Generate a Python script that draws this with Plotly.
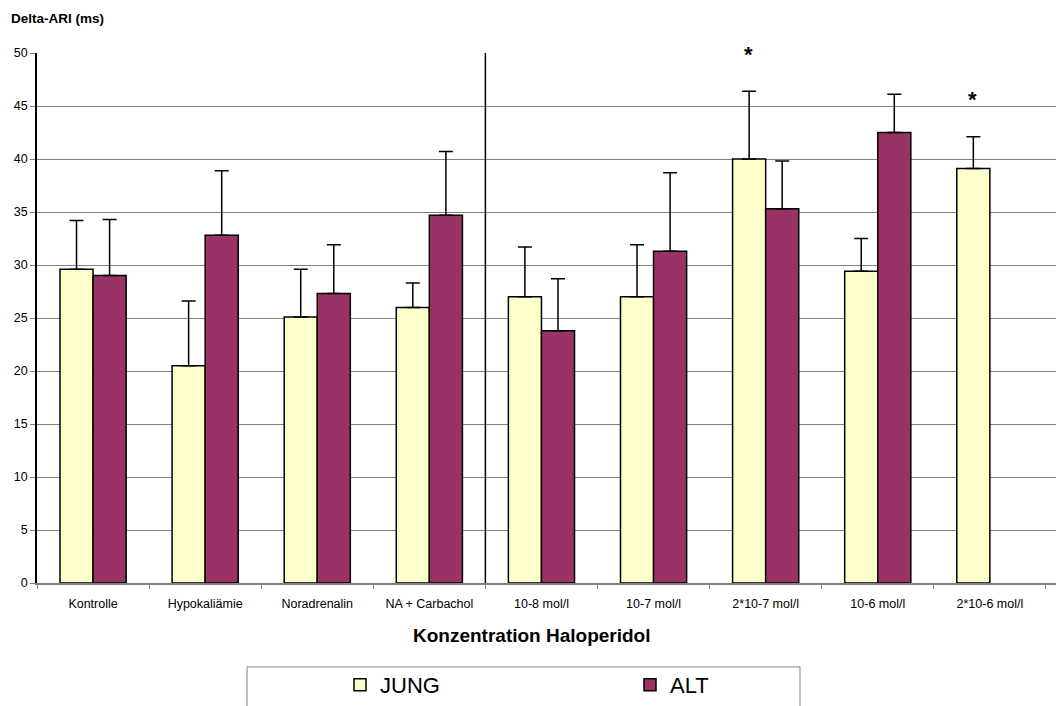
import plotly.graph_objects as go

# Treatment groups along the x axis
categories = ["Kontrolle", "Hypokaliämie", "Noradrenalin", "NA + Carbachol",
              "10-8 mol/l", "10-7 mol/l", "2*10-7 mol/l", "10-6 mol/l", "2*10-6 mol/l"]

# Mean Delta-ARI (ms) and upper standard error per group
jung_mean = [29.6, 20.5, 25.1, 26.0, 27.0, 27.0, 40.0, 29.4, 39.1]
jung_err = [4.6, 6.1, 4.5, 2.3, 4.7, 4.9, 6.4, 3.1, 3.0]
alt_mean = [29.0, 32.8, 27.3, 34.7, 23.8, 31.3, 35.3, 42.5, None]
alt_err = [5.3, 6.1, 4.6, 6.0, 4.9, 7.4, 4.5, 3.6, None]

# Groups marked as significant (asterisk above the JUNG bar)
significant = ["2*10-7 mol/l", "2*10-6 mol/l"]

JUNG_COLOR = "#FFFFCC"
ALT_COLOR = "#993366"
FONT = "Liberation Sans, Arial, sans-serif"

fig = go.Figure()

fig.add_trace(go.Bar(
    name="JUNG", x=categories, y=jung_mean,
    marker=dict(color=JUNG_COLOR, line=dict(color="black", width=1.5)),
    error_y=dict(type="data", symmetric=False, array=jung_err,
                 arrayminus=[0] * len(jung_err),
                 color="black", thickness=1.5, width=7),
))
fig.add_trace(go.Bar(
    name="ALT", x=categories, y=alt_mean,
    marker=dict(color=ALT_COLOR, line=dict(color="black", width=1.5)),
    error_y=dict(type="data", symmetric=False, array=alt_err,
                 arrayminus=[0] * len(alt_err),
                 color="black", thickness=1.5, width=7),
))

# Significance markers above the JUNG error bars
for cat in significant:
    i = categories.index(cat)
    fig.add_annotation(
        x=cat, y=jung_mean[i] + jung_err[i], xref="x", yref="y",
        text="<b>*</b>", showarrow=False, xshift=-17, yshift=37,
        yanchor="middle", font=dict(family=FONT, size=22, color="black"),
    )

# Separator between the reference conditions and the haloperidol series
fig.add_shape(type="line", xref="x", yref="y", x0=3.5, x1=3.5, y0=0, y1=50,
              line=dict(color="black", width=1.5))

# Frame around the legend
fig.add_shape(type="rect", xref="paper", yref="paper",
              x0=(247 - 37) / 1019, x1=(800 - 37) / 1019,
              y0=(583.5 - 730) / 530.5, y1=(583.5 - 667.5) / 530.5,
              line=dict(color="#808080", width=1), fillcolor="rgba(0,0,0,0)")

# Axis titles
fig.add_annotation(
    x=(9 - 37) / 1019, y=(583.5 - 18) / 530.5, xref="paper", yref="paper",
    text="<b>Delta-ARI (ms)</b>", showarrow=False, xanchor="left", yanchor="middle",
    font=dict(family=FONT, size=13.5, color="black"),
)
fig.add_annotation(
    x=(532 - 37) / 1019, y=(583.5 - 636) / 530.5, xref="paper", yref="paper",
    text="<b>Konzentration Haloperidol</b>", showarrow=False,
    xanchor="center", yanchor="middle",
    font=dict(family=FONT, size=19, color="black"),
)

fig.update_layout(
    width=1056, height=706,
    margin=dict(l=37, r=0, t=53, b=122.5, pad=0),
    paper_bgcolor="white", plot_bgcolor="white",
    barmode="group", bargap=0.41, bargroupgap=0,
    font=dict(family=FONT, size=12, color="black"),
    showlegend=True,
    legend=dict(
        orientation="h", x=(340 - 37) / 1019, xanchor="left",
        y=(583.5 - 686) / 530.5, yanchor="middle",
        font=dict(family=FONT, size=22, color="black"),
        entrywidth=245, borderwidth=0, bgcolor="rgba(0,0,0,0)",
    ),
    xaxis=dict(
        type="category", range=[-0.5, 8.59],
        showline=True, linecolor="#808080", linewidth=1.5,
        ticks="outside", tickson="boundaries", ticklen=4, tickcolor="#808080",
        ticklabelstandoff=8,
        showgrid=False, tickfont=dict(family=FONT, size=12.5, color="black"),
    ),
    yaxis=dict(
        range=[0, 50], dtick=5, tick0=0,
        showline=True, linecolor="black", linewidth=1.5,
        ticks="outside", ticklen=5, tickcolor="#808080",
        showgrid=True, gridcolor="#808080", gridwidth=1, zeroline=False,
        tickfont=dict(family=FONT, size=12.5, color="black"),
    ),
)

fig.write_html("out.html")
